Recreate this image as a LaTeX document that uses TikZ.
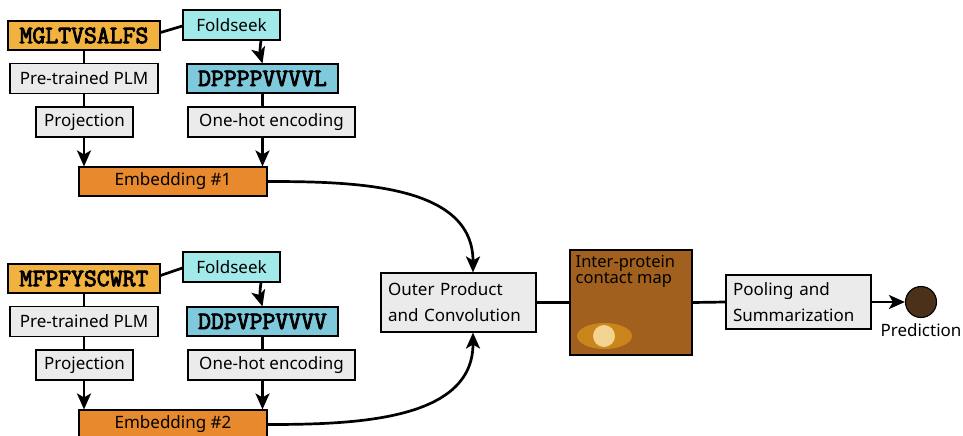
\documentclass[tikz,border=0pt]{standalone}
\usepackage{fontspec}
\setmainfont{Noto Sans}
\newfontfamily\seqfont{Latin Modern Mono}[FakeBold=3.5]
\usepackage{tikz}
\usetikzlibrary{arrows.meta,positioning,calc}
\definecolor{seqcol}{HTML}{F2B23F}
\definecolor{fscol}{HTML}{A2EAEA}
\definecolor{tdicol}{HTML}{7FC9DC}
\definecolor{embcol}{HTML}{E8892D}
\definecolor{stepgrey}{HTML}{EBEBEB}
\definecolor{mapcol}{HTML}{A1601D}
\definecolor{blobcol}{HTML}{C9851B}
\definecolor{spotcol}{HTML}{F3D38F}
\definecolor{predcol}{HTML}{4B3119}
\tikzset{
  box/.style={draw=black,line width=1.1pt,align=center,inner sep=3pt,
              font=\fontsize{17}{20}\selectfont},
  seqbox/.style={box,fill=seqcol,minimum width=152,minimum height=29,
                 font=\fontsize{25}{26}\selectfont\seqfont},
  tdibox/.style={seqbox,fill=tdicol,minimum width=151},
  fsbox/.style={box,fill=fscol,minimum width=97,minimum height=30},
  stepbox/.style={box,fill=stepgrey,minimum height=30},
  embbox/.style={box,fill=embcol,minimum width=188,minimum height=29},
  bigbox/.style={box,fill=stepgrey,align=left,inner xsep=7pt,
                 font=\fontsize{17}{26}\selectfont},
  link/.style={line width=2.7pt},
  flow/.style={link,-{Stealth[length=16pt,width=14pt,inset=4pt]}},
}

\begin{document}
\begin{tikzpicture}[x=1pt,y=-1pt]
  \useasboundingbox (0,0) rectangle (963,436);

  % first chain
  \node[seqbox] (seq1)  at (84,35.5)    {MGLTVSALFS};
  \node[fsbox]  (fs1)   at (231.5,25)   {Foldseek};
  \node[stepbox,minimum width=148] (plm1)  at (84,78.5)   {Pre-trained PLM};
  \node[stepbox,minimum width=97]  (proj1) at (84.5,122)  {Projection};
  \node[tdibox] (tdi1)  at (262.5,78.5) {DPPPPVVVVL};
  \node[stepbox,minimum width=167] (oh1)   at (271.5,122) {One-hot encoding};
  \node[embbox] (emb1)  at (173,181.5)  {Embedding \#1};

  \draw[link] ([yshift=3pt]seq1.east) -- ([yshift=-1pt]fs1.west);
  \draw[link] (seq1.south) -- (plm1.north);
  \draw[link] (plm1.south) -- (proj1.north -| plm1);
  \draw[flow] (proj1.south -| plm1) -- (emb1.north -| plm1);
  \draw[flow] ([xshift=-1.5pt]fs1.south -| tdi1) to[bend right=12] (tdi1.north);
  \draw[link] (tdi1.south) -- (oh1.north -| tdi1);
  \draw[flow] (oh1.south -| tdi1) -- (emb1.north -| tdi1);

  % second chain
  \node[seqbox] (seq2)  at (84,278.5)    {MFPFYSCWRT};
  \node[fsbox]  (fs2)   at (231.5,267)   {Foldseek};
  \node[stepbox,minimum width=148] (plm2)  at (84,321.5)   {Pre-trained PLM};
  \node[stepbox,minimum width=97]  (proj2) at (84.5,365)   {Projection};
  \node[tdibox] (tdi2)  at (262.5,321.5) {DDPVPPVVVV};
  \node[stepbox,minimum width=167] (oh2)   at (271.5,365)  {One-hot encoding};
  \node[embbox] (emb2)  at (173,424.5)   {Embedding \#2};

  \draw[link] ([yshift=3pt]seq2.east) -- ([yshift=-1pt]fs2.west);
  \draw[link] (seq2.south) -- (plm2.north);
  \draw[link] (plm2.south) -- (proj2.north -| plm2);
  \draw[flow] (proj2.south -| plm2) -- (emb2.north -| plm2);
  \draw[flow] ([xshift=-1.5pt]fs2.south -| tdi2) to[bend right=12] (tdi2.north);
  \draw[link] (tdi2.south) -- (oh2.north -| tdi2);
  \draw[flow] (oh2.south -| tdi2) -- (emb2.north -| tdi2);

  % merge and head
  \node[bigbox,text width=141,minimum height=59] (outer) at (458.5,302.5)
    {Outer Product\\and Convolution};
  \node[box,fill=mapcol,minimum width=122,minimum height=105] (cmap) at (631,302.5) {};
  \node[anchor=north west,align=left,inner sep=0pt,
        font=\fontsize{16.5}{12.5}\selectfont] (cmaptxt)
    at ([xshift=6pt,yshift=-6pt]cmap.north west) {Inter-protein\\contact map};
  \fill[blobcol] (604.5,336) ellipse[x radius=27.5,y radius=13];
  \fill[spotcol] (604,336) circle[radius=11];
  \node[bigbox,text width=131,minimum height=54] (pool) at (798.5,302)
    {Pooling and\\Summarization};
  \node[circle,draw=black,line width=1.1pt,fill=predcol,minimum size=31,
        inner sep=0pt] (pred) at (921,302) {};
  \node[below=5pt of pred,inner sep=0pt,font=\fontsize{17}{20}\selectfont]
    (predtxt) {Prediction};

  \draw[flow] (emb1.east) to[out=0,in=90] ([xshift=14.5pt]outer.north);
  \draw[flow] (emb2.east) to[out=0,in=-90] ([xshift=14.5pt]outer.south);
  \draw[link] (outer.east) -- (cmap.west);
  \draw[link] (cmap.east) -- (pool.west);
  \draw[flow] (pool.east) -- (pred.west);
\end{tikzpicture}
\end{document}
